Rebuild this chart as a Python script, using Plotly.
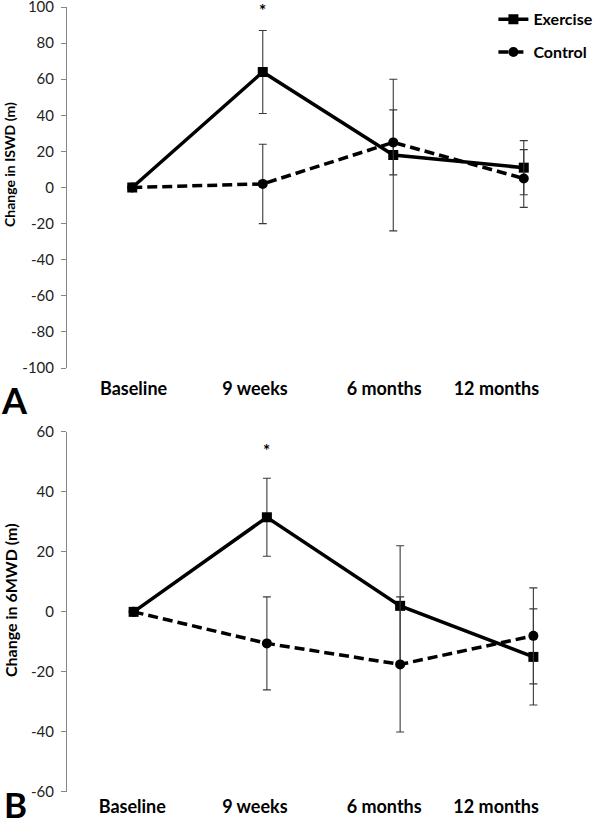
import plotly.graph_objects as go

# ---------------- data ----------------
categories = ["Baseline", "9 weeks", "6 months", "12 months"]

iswd_exercise = [0, 64, 18, 11]
iswd_exercise_err = [0, 23, 42, 15]
iswd_control = [0, 2, 25, 5]
iswd_control_err = [0, 22, 18, 16]

mwd_exercise = [0, 31.5, 2, -15]
mwd_exercise_err = [0, 13, 20, 16]
mwd_control = [0, -10.5, -17.5, -8]
mwd_control_err = [0, 15.5, 22.5, 16]

iswd_ticks = [-100, -80, -60, -40, -20, 0, 20, 40, 60, 80, 100]
mwd_ticks = [-60, -40, -20, 0, 20, 40, 60]

series_names = ["Exercise", "Control"]
significant_label = "*"
# ---------------------------------------

FONT = "Lato"
x_idx = list(range(len(categories)))
# label placement (layout): tick text sits slightly left of the category centres
label_pos_A = [0.01, 0.94, 1.93, 2.79]
label_pos_B = [-0.01, 0.91, 1.88, 2.72]

err_style = dict(type="data", symmetric=True, color="#3a3a3a", thickness=1.1, width=4)

def ex_trace(y, err, xa, ya, show):
    return go.Scatter(
        x=x_idx, y=y, xaxis=xa, yaxis=ya, name=series_names[0],
        mode="lines+markers", legendgroup="ex", showlegend=show,
        line=dict(color="black", width=3.5),
        marker=dict(symbol="square", size=10, color="black"),
        error_y=dict(array=err, **err_style),
    )

def ctl_trace(y, err, xa, ya, show):
    return go.Scatter(
        x=x_idx, y=y, xaxis=xa, yaxis=ya, name=series_names[1],
        mode="lines+markers", legendgroup="ctl", showlegend=show,
        line=dict(color="black", width=3.5, dash="10px,5px"),
        marker=dict(symbol="circle", size=10, color="black"),
        error_y=dict(array=err, **err_style),
    )

fig = go.Figure()
fig.add_trace(ex_trace(iswd_exercise, iswd_exercise_err, "x", "y", True))
fig.add_trace(ctl_trace(iswd_control, iswd_control_err, "x", "y", True))
fig.add_trace(ex_trace(mwd_exercise, mwd_exercise_err, "x2", "y2", False))
fig.add_trace(ctl_trace(mwd_control, mwd_control_err, "x2", "y2", False))

axis_y_common = dict(
    showgrid=False, zeroline=False, showline=True, linecolor="#868686", linewidth=1,
    ticks="outside", ticklen=5, tickcolor="#868686", ticklabeloverflow="allow",
    ticklabelstandoff=4,
    tickfont=dict(family=FONT, size=15, color="#222"),
)
axis_x_common = dict(
    showgrid=False, zeroline=False, showline=False, ticks="",
    range=[-0.5, 3.5], ticklabeloverflow="allow",
    tickfont=dict(family=FONT, size=18, color="black", weight="bold"),
)

top_A = 1.0
bot_A = 0.5401
top_B = 0.459

fig.update_layout(
    width=600, height=823,
    margin=dict(l=67, r=0, t=7, b=31, autoexpand=False),
    paper_bgcolor="white", plot_bgcolor="white",
    showlegend=True,
    xaxis=dict(domain=[0, 0.9794], anchor="y", tickvals=label_pos_A, ticktext=categories,
               ticklabelstandoff=8, **axis_x_common),
    yaxis=dict(domain=[bot_A, top_A], anchor="x", range=[-100, 100.001], tickvals=iswd_ticks,
               ticktext=[str(v) for v in iswd_ticks], **axis_y_common),
    xaxis2=dict(domain=[0, 1], anchor="y2", tickvals=label_pos_B, ticktext=categories,
                ticklabelstandoff=2, **axis_x_common),
    yaxis2=dict(domain=[0, top_B], anchor="x2", range=[-60, 60.001], tickvals=mwd_ticks,
                ticktext=[str(v) for v in mwd_ticks], **axis_y_common),
    legend=dict(
        x=0.80, y=1.006, xanchor="left", yanchor="top",
        font=dict(family=FONT, size=16, color="black", weight="bold"),
        traceorder="grouped", tracegroupgap=9, bgcolor="rgba(0,0,0,0)",
    ),
)

annotations = [
    dict(text=significant_label, x=1, y=100, xref="x", yref="y", showarrow=False,
         font=dict(family=FONT, size=17, color="black", weight="bold"), yanchor="middle", yshift=-3),
    dict(text=significant_label, x=1, y=54, xref="x2", yref="y2", showarrow=False,
         font=dict(family=FONT, size=17, color="black", weight="bold"), yanchor="middle", yshift=-1),
    dict(text="A", x=-0.0994, y=0.4994, xref="paper", yref="paper", showarrow=False,
         font=dict(family=FONT, size=36, color="black", weight="bold"),
         xanchor="center", yanchor="middle"),
    dict(text="B", x=-0.097, y=-0.0217, xref="paper", yref="paper", showarrow=False,
         font=dict(family=FONT, size=35, color="black", weight="bold"),
         xanchor="center", yanchor="middle", yshift=5),
    dict(text="Change in ISWD (m)", x=-0.1088, y=0.7987, xref="paper", yref="paper",
         showarrow=False, textangle=-90,
         font=dict(family=FONT, size=14, color="black", weight="bold"),
         xanchor="center", yanchor="middle"),
    dict(text="Change in 6MWD (m)", x=-0.105, y=0.2446, xref="paper", yref="paper",
         showarrow=False, textangle=-90,
         font=dict(family=FONT, size=16, color="black", weight="bold"),
         xanchor="center", yanchor="middle"),
]
fig.update_layout(annotations=annotations)

fig.write_html(
    "out.html",
    config={"displayModeBar": False},
    post_script="document.body.style.margin='0';document.body.style.overflow='hidden';",
)
